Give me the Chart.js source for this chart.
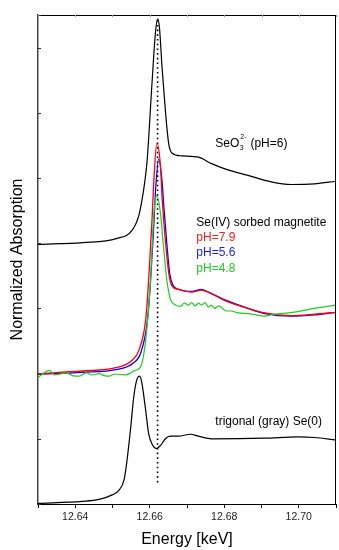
<!DOCTYPE html>
<html>
<head>
<meta charset="utf-8">
<script src="https://cdn.jsdelivr.net/npm/chart.js@4/dist/chart.umd.min.js"></script>
<style>
  html, body { margin: 0; padding: 0; background: #fff; }
  #c { display: block; }
</style>
</head>
<body>
<canvas id="c" width="339" height="550"></canvas>
<script>
// ---- Data ----
// SeO3(2-) reference spectrum (pH=6), offset +4
const seo3Energy = [12.6300, 12.6420, 12.6510, 12.6553, 12.6571, 12.6580, 12.6587, 12.6593, 12.6606, 12.6615, 12.6621, 12.6626, 12.6633, 12.6642, 12.6651, 12.6660, 12.6686, 12.6731, 12.6766, 12.6802, 12.6864, 12.6926, 12.6980, 12.7042, 12.7100];
const seo3Abs    = [3.98, 4.01, 4.07, 4.20, 4.43, 4.69, 4.96, 5.27, 6.45, 7.21, 7.44, 7.31, 6.70, 6.03, 5.52, 5.38, 5.34, 5.32, 5.22, 5.14, 5.04, 4.94, 4.90, 4.91, 4.95];

// Se(IV) sorbed on magnetite, pH=7.9 (offset +2)
const ph79Energy = [12.6300, 12.6419, 12.6509, 12.6552, 12.6571, 12.6589, 12.6597, 12.6606, 12.6611, 12.6619, 12.6629, 12.6633, 12.6642, 12.6651, 12.6659, 12.6677, 12.6713, 12.6739, 12.6757, 12.6802, 12.6864, 12.6909, 12.6979, 12.7042, 12.7100];
const ph79Abs    = [2.00, 2.04, 2.09, 2.20, 2.36, 2.82, 3.43, 4.35, 4.96, 5.53, 5.17, 4.71, 4.04, 3.54, 3.35, 3.29, 3.25, 3.28, 3.25, 3.12, 3.00, 2.93, 2.89, 2.91, 2.94];

// pH=5.6
const ph56Energy = [12.6300, 12.6419, 12.6509, 12.6555, 12.6576, 12.6593, 12.6602, 12.6611, 12.6616, 12.6624, 12.6633, 12.6638, 12.6646, 12.6654, 12.6662, 12.6679, 12.6713, 12.6739, 12.6757, 12.6802, 12.6864, 12.6909, 12.6979, 12.7042, 12.7100];
const ph56Abs    = [1.99, 2.02, 2.06, 2.16, 2.32, 2.78, 3.40, 4.30, 4.85, 5.29, 4.95, 4.55, 3.98, 3.52, 3.36, 3.29, 3.26, 3.29, 3.25, 3.13, 3.00, 2.92, 2.88, 2.90, 2.94];

// pH=4.8 (noisier)
const ph48Energy = [12.6300, 12.6331, 12.6344, 12.6357, 12.6375, 12.6392, 12.6411, 12.6429, 12.6446, 12.6464, 12.6477, 12.6491, 12.6504, 12.6517, 12.6535, 12.6549, 12.6560, 12.6575, 12.6589, 12.6602, 12.6611, 12.6619, 12.6629, 12.6637, 12.6646, 12.6655, 12.6664, 12.6682, 12.6693, 12.6704, 12.6712, 12.6722, 12.6731, 12.6739, 12.6749, 12.6757, 12.6765, 12.6775, 12.6784, 12.6793, 12.6805, 12.6819, 12.6837, 12.6864, 12.6885, 12.6909, 12.6931, 12.6953, 12.6997, 12.7042, 12.7100];
const ph48Abs    = [1.94, 2.05, 1.98, 1.99, 2.01, 1.97, 1.96, 2.01, 1.98, 2.00, 1.97, 1.96, 1.99, 1.99, 1.98, 2.01, 2.05, 2.10, 2.51, 3.43, 4.45, 4.73, 4.45, 3.94, 3.43, 3.15, 3.07, 3.03, 3.08, 3.05, 3.09, 3.04, 3.08, 3.05, 3.09, 3.02, 3.05, 3.00, 3.04, 3.01, 2.96, 2.96, 2.93, 2.92, 2.90, 2.88, 2.91, 2.92, 2.95, 3.00, 3.05];

// trigonal (gray) Se(0), offset 0
const se0Energy = [12.6300, 12.6419, 12.6464, 12.6499, 12.6517, 12.6531, 12.6539, 12.6549, 12.6557, 12.6566, 12.6573, 12.6579, 12.6589, 12.6597, 12.6608, 12.6618, 12.6629, 12.6642, 12.6655, 12.6677, 12.6709, 12.6731, 12.6766, 12.6909, 12.6997, 12.7042, 12.7100];
const se0Abs    = [0.01, 0.04, 0.07, 0.14, 0.21, 0.37, 0.67, 1.18, 1.64, 1.92, 1.96, 1.85, 1.44, 1.08, 0.90, 0.85, 0.90, 1.00, 1.04, 1.04, 1.07, 1.04, 1.00, 1.01, 1.03, 1.02, 0.98];

// dotted reference line (white line energy of Se(IV))
const refLineEnergy = 12.6621;
const refLineAbs = [7.42, 0.32];

// axis
const xMin = 12.63, xMax = 12.71, xStep = 0.01;
const xTickLabels = ['12.64', '12.66', '12.68', '12.70'];
const yMin = 0, yMax = 7.5, yStep = 1;

// annotations: [text, energy, absorbance, colour]
const annoLabels = ['Se(IV) sorbed magnetite', 'pH=7.9', 'pH=5.6', 'pH=4.8', 'trigonal (gray) Se(0)'];
const annoEnergy = [12.6725, 12.6725, 12.6725, 12.6725, 12.6776];
const annoAbs    = [4.32, 4.09, 3.85, 3.61, 1.26];
const annoColors = ['#000000', '#ff1a1a', '#1a1aff', '#22cc22', '#000000'];
const seo3Label = { base: 'SeO', sub: '3', sup: '2-', rest: ' (pH=6)', energy: 12.6776, abs: 5.53 };

// ---- Build ----
const pts = (xs, ys) => xs.map((x, i) => ({ x, y: ys[i] }));
const FONT = '"Liberation Sans", Arial, Helvetica, sans-serif';

const overlay = {
  id: 'overlay',
  afterDraw(chart) {
    const { ctx, chartArea: a, scales: { x, y } } = chart;
    ctx.save();
    // top and right frame
    ctx.strokeStyle = '#000';
    ctx.lineWidth = 1;
    ctx.beginPath();
    ctx.moveTo(a.left, a.top + 0.5); ctx.lineTo(a.right, a.top + 0.5);
    ctx.moveTo(a.right - 0.5, a.top); ctx.lineTo(a.right - 0.5, a.bottom);
    ctx.stroke();
    // inward ticks on the left axis
    ctx.strokeStyle = '#333';
    ctx.beginPath();
    y.ticks.forEach(t => {
      const py = Math.round(y.getPixelForValue(t.value)) + 0.5;
      ctx.moveTo(a.left, py); ctx.lineTo(a.left + 3, py);
    });
    ctx.stroke();
    // faint inward ticks on the top axis
    ctx.strokeStyle = '#999';
    ctx.beginPath();
    x.ticks.forEach(t => {
      const px = Math.round(x.getPixelForValue(t.value)) + 0.5;
      ctx.moveTo(px, a.top); ctx.lineTo(px, a.top + 2);
    });
    ctx.stroke();
    // annotations
    ctx.textBaseline = 'middle';
    ctx.textAlign = 'left';
    ctx.font = '12px ' + FONT;
    annoLabels.forEach((txt, i) => {
      ctx.fillStyle = annoColors[i];
      ctx.fillText(txt, x.getPixelForValue(annoEnergy[i]), y.getPixelForValue(annoAbs[i]));
    });
    // SeO3^2- label
    ctx.fillStyle = '#000';
    let px = x.getPixelForValue(seo3Label.energy);
    const py = y.getPixelForValue(seo3Label.abs);
    ctx.font = '12px ' + FONT;
    ctx.fillText(seo3Label.base, px, py);
    px += ctx.measureText(seo3Label.base).width;
    ctx.font = '7px ' + FONT;
    ctx.fillText(seo3Label.sub, px + 0.5, py + 5);
    ctx.fillText(seo3Label.sup, px + 1, py - 6);
    px += ctx.measureText(seo3Label.sup).width + 1.5;
    ctx.font = '12px ' + FONT;
    ctx.fillText(seo3Label.rest, px, py);
    ctx.restore();
  }
};

const lineDs = (data, color, width) => ({
  data, borderColor: color, borderWidth: width, pointRadius: 0,
  fill: false, cubicInterpolationMode: 'monotone'
});

new Chart(document.getElementById('c'), {
  type: 'line',
  data: {
    datasets: [
      lineDs(pts(seo3Energy, seo3Abs), '#000000', 1.2),
      lineDs(pts(ph48Energy, ph48Abs), '#22cc22', 1.2),
      lineDs(pts(ph79Energy, ph79Abs), '#ff0000', 1.3),
      lineDs(pts(ph56Energy, ph56Abs), '#0000ff', 1.3),
      lineDs(pts(se0Energy, se0Abs), '#000000', 1.2),
      {
        data: [{ x: refLineEnergy, y: refLineAbs[0] }, { x: refLineEnergy, y: refLineAbs[1] }],
        borderColor: '#000', borderWidth: 1.6, borderDash: [1.6, 3.1], pointRadius: 0, fill: false
      }
    ]
  },
  options: {
    responsive: false,
    animation: false,
    devicePixelRatio: 1,
    layout: { padding: { top: 15, right: 1, left: 0, bottom: 0 } },
    plugins: { legend: { display: false }, tooltip: { enabled: false } },
    scales: {
      x: {
        type: 'linear', position: 'bottom', min: xMin, max: xMax,
        afterFit: s => { s.height = 46; },
        ticks: {
          stepSize: xStep, autoSkip: false, maxRotation: 0, padding: 3,
          color: '#222', font: { family: FONT, size: 10.5 },
          callback: v => { const l = v.toFixed(2); return xTickLabels.includes(l) ? l : ''; }
        },
        grid: { drawOnChartArea: false, tickLength: 4, color: '#000', lineWidth: 1 },
        border: { display: true, color: '#000', width: 1 },
        title: { display: true, text: 'Energy [keV]', color: '#000', font: { family: FONT, size: 16 }, padding: { top: 0, bottom: 1 } }
      },
      y: {
        type: 'linear', min: yMin, max: yMax,
        afterFit: s => { s.width = 38; },
        ticks: { display: false, stepSize: yStep },
        grid: { display: false },
        border: { display: true, color: '#444', width: 1.5 },
        title: { display: true, text: 'Normalized Absorption', color: '#000', font: { family: FONT, size: 16 }, padding: { top: 8, bottom: 0 } }
      }
    }
  },
  plugins: [overlay]
});
</script>
</body>
</html>
